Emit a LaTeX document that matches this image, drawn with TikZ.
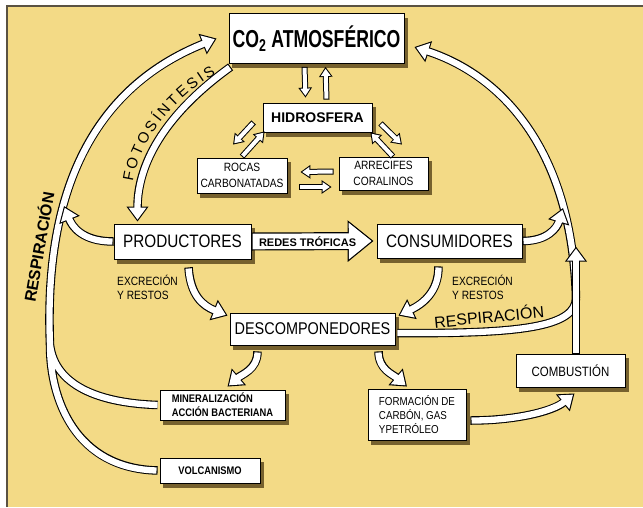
\documentclass[tikz,border=0pt]{standalone}
\usepackage{fontspec}
\setmainfont{Liberation Sans}
\newfontfamily\estrecha[FakeStretch=0.85]{Liberation Sans}
\newfontfamily\muyestrecha[FakeStretch=0.72]{Liberation Sans}
\usetikzlibrary{arrows.meta,calc,decorations.text}

\definecolor{fondo}{HTML}{F3DA86}
\definecolor{borde}{HTML}{5A5242}
\definecolor{sombra}{HTML}{76612E}

\pgfdeclarelayer{capafondo}
\pgfdeclarelayer{capasombra}
\pgfsetlayers{capafondo,capasombra,main}

\tikzset{
  caja/.style={draw=black, line width=0.8pt, fill=white, inner sep=1pt, align=center},
  flecha/.style={white, line width=6.3pt, shorten >=1.9pt, shorten <=1.1pt,
    -{Triangle[length=12pt, width=16.8pt]},
    preaction={draw=black, line width=8.5pt, shorten >=0pt, shorten <=0pt,
      -{Triangle[length=15pt, width=21pt]}}},
  flechita/.style={white, line width=4pt, shorten >=1.8pt, shorten <=1pt,
    -{Triangle[length=7.2pt, width=9.3pt]},
    preaction={draw=black, line width=6pt, shorten >=0pt, shorten <=0pt,
      -{Triangle[length=10pt, width=13pt]}}},
  flechon/.style={white, line width=15.6pt, shorten >=2pt, shorten <=1.2pt,
    -{Triangle[length=22.8pt, width=35.1pt]},
    preaction={draw=black, line width=18pt, shorten >=0pt, shorten <=0pt,
      -{Triangle[length=26pt, width=40pt]}}},
  grande/.style={font=\estrecha\fontsize{18}{20}\selectfont},
  chica/.style={font=\estrecha\fontsize{12}{16}\selectfont},
}

\begin{document}
\begin{tikzpicture}[x=1pt,y=-1pt]
  \useasboundingbox (0,0) rectangle (643,507);
  \begin{pgfonlayer}{capafondo}
    \fill[white] (0,0) rectangle (643,507);
    \fill[fondo] (7,6) rectangle (643,507);
    \draw[borde, line width=2pt] (7,507) -- (7,6) -- (643,6);
  \end{pgfonlayer}

  \node[caja, minimum width=175pt, minimum height=50pt] (co2) at (316.5,38.5)
    {\muyestrecha\bfseries\fontsize{24.5}{26}\selectfont CO\textsubscript{2} ATMOSFÉRICO};
  \node[caja, minimum width=109pt, minimum height=29pt, font=\bfseries\fontsize{14}{16}\selectfont] (hid) at (317.5,117.5) {HIDROSFERA};
  \node[caja, chica, minimum width=90pt, minimum height=35pt] (rocas) at (242,175.5) {ROCAS\\CARBONATADAS};
  \node[caja, chica, minimum width=89pt, minimum height=33pt] (arr) at (383.5,173.5) {ARRECIFES\\CORALINOS};
  \node[caja, grande, minimum width=137pt, minimum height=35pt] (prod) at (182.5,241.5) {PRODUCTORES};
  \node[caja, grande, minimum width=145pt, minimum height=34pt] (cons) at (449.5,241) {CONSUMIDORES};
  \node[caja, minimum width=165pt, minimum height=32pt, font=\estrecha\fontsize{17}{20}\selectfont] (desc) at (312.5,329) {DESCOMPONEDORES};
  \node[caja, minimum width=125pt, minimum height=30pt, align=left, font=\estrecha\bfseries\fontsize{11}{14}\selectfont] (min) at (222.5,405) {MINERALIZACIÓN\\ACCIÓN BACTERIANA};
  \node[caja, minimum width=98pt, minimum height=51pt, align=left, font=\estrecha\fontsize{11.5}{14}\selectfont] (form) at (417,414.5) {FORMACIÓN DE\\CARBÓN, GAS\\YPETRÓLEO};
  \node[caja, minimum width=100pt, minimum height=25pt, font=\estrecha\bfseries\fontsize{11}{13}\selectfont] (vol) at (210,470.5) {VOLCANISMO};
  \node[caja, minimum width=109pt, minimum height=33pt, font=\estrecha\fontsize{13.5}{15}\selectfont] (comb) at (570.5,370.5) {COMBUSTIÓN};

  % sombras de las cajas
  \begin{pgfonlayer}{capasombra}
    \foreach \caja in {co2,hid,rocas,arr,prod,cons,desc,min,form,vol,comb}
      \fill[sombra] ($(\caja.south west)+(3.5,4.5)$) rectangle ($(\caja.north east)+(3.5,4.5)$);
  \end{pgfonlayer}

  \node[anchor=west, inner sep=0pt, align=left, font=\estrecha\fontsize{12}{14}\selectfont] (excizq) at (117,287) {EXCRECIÓN\\Y RESTOS};
  \node[anchor=west, inner sep=0pt, align=left, font=\estrecha\fontsize{12}{14}\selectfont] (excder) at (452,287) {EXCRECIÓN\\Y RESTOS};
  \node[rotate=5.5, font=\fontsize{16}{18}\selectfont] (respder) at (489,316) {RESPIRACIÓN};
  \node[rotate=80, font=\bfseries\fontsize{16}{18}\selectfont] (respizq) at (38,247) {RESPIRACIÓN};
  \path[decorate, decoration={text along path, text align={fit to path},
      text={|\fontsize{15}{15}\selectfont|FOTOSÍNTESIS}}]
    (133,182) .. controls (138,145) and (170,100) .. (216,74);

  \coordinate (unionizq) at (50,345);
  \coordinate (unionder) at (576,298);
  \coordinate (llegadaizq) at (64,206);
  \coordinate (llegadader) at (563,208);

  % respiracion, volcanismo y mineralizacion
  \draw[flecha] ($(min.west)+(-2,0)$) .. controls +(-60,-2) and +(5,40) .. (unionizq)
    ($(vol.west)+(-2,0)$) .. controls +(-82,-2) and +(0,55) .. (unionizq)
    .. controls +(-4,-100) and +(-155,62) .. ($(co2.west)+(-12,0)$);
  \draw[flecha] (prod.west) .. controls +(-32,0) and +(8,20) .. (llegadaizq);
  \draw[flecha] ($(co2.south west)+(2,3)$) .. controls +(-61,44) and +(0,-62) .. ($(prod.north)+(-45,-2)$);

  % respiracion y combustion
  \draw[flecha] ($(desc.east)+(2,4)$) -- ++(40,0) .. controls +(85,-1) and +(0,28) .. (unionder)
    (unionder) .. controls +(-4,-150) and +(86,28) .. ($(co2.east)+(10,8.5)$);
  \draw[flecha] ($(comb.north)+(5.5,0)$) -- ($(comb.north)+(5.5,-107)$);
  \draw[flecha] (cons.east) .. controls +(25,0) and +(-6,20) .. (llegadader);

  \draw[flechon] (prod.east) -- ($(cons.west)+(-3,0)$)
    node[pos=0.46, text=black, font=\bfseries\fontsize{11}{13}\selectfont] (redes) {REDES TRÓFICAS};

  \draw[flecha] ($(prod.south)+(6,8)$) .. controls +(2,28) and +(-25,-10) .. ($(desc.north west)+(-2,3)$);
  \draw[flecha] ($(cons.south)+(-11,8)$) .. controls +(0,25) and +(25,-12) .. ($(desc.north east)+(3,3)$);
  \draw[flecha] ($(desc.south)+(-55,6)$) .. controls +(0,18) and +(14,-12) .. ($(min.north)+(5,-3)$);
  \draw[flecha] ($(desc.south)+(66,6)$) .. controls +(0,18) and +(-14,-12) .. ($(form.north)+(-10,-2)$);
  \draw[flecha] ($(form.east)+(4,6)$) .. controls +(45,0) and +(-22,18) .. ($(comb.south)+(4,6)$);

  % hidrosfera
  \draw[flechita] ($(co2.south)+(-12,3)$) -- ($(hid.north)+(-12,-5)$);
  \draw[flechita] ($(hid.north)+(9,-3)$) -- ($(co2.south)+(9,3)$);
  \draw[flechita] ($(hid.south west)+(-9,-10)$) -- ($(rocas.north)+(-9,-13)$);
  \draw[flechita] ($(rocas.north)+(0,-1)$) -- ($(hid.south west)+(2,-1)$);
  \draw[flechita] ($(hid.south east)+(8,-9)$) -- ($(arr.north)+(18.5,-12)$);
  \draw[flechita] ($(arr.north)+(9.5,0)$) -- ($(hid.south east)+(-2,0)$);
  \draw[flechita] ($(arr.west)+(-5,-2)$) -- ($(rocas.east)+(13,-3.5)$);
  \draw[flechita] ($(rocas.east)+(12,11.5)$) -- ($(arr.west)+(-7,13.5)$);
\end{tikzpicture}
\end{document}
